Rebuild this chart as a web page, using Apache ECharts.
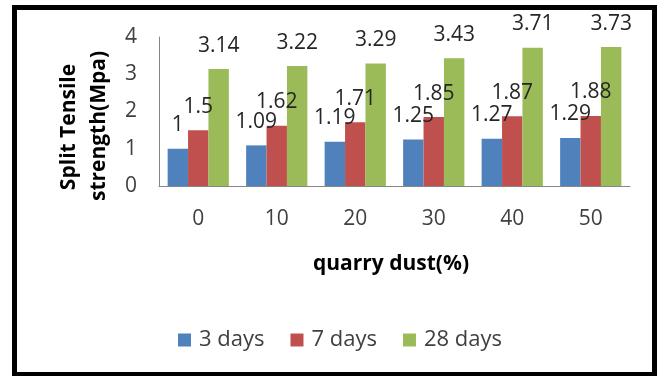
<!DOCTYPE html>
<html>
<head>
<meta charset="utf-8">
<script src="https://cdn.jsdelivr.net/npm/echarts@6/dist/echarts.min.js"></script>
<style>html,body{margin:0;padding:0;background:#fff}#c{width:661px;height:376px}</style>
</head>
<body>
<div id="c"></div>
<script>
const categories = ['0', '10', '20', '30', '40', '50'];
const days3 = [1, 1.09, 1.19, 1.25, 1.27, 1.29];
const days7 = [1.5, 1.62, 1.71, 1.85, 1.87, 1.88];
const days28 = [3.14, 3.22, 3.29, 3.43, 3.71, 3.73];
const seriesNames = ['3 days', '7 days', '28 days'];
const colors = ['#4F81BD', '#C0504D', '#9BBB59'];

const FONT = 'Open Sans';
const chart = echarts.init(document.getElementById('c'), null, {renderer: 'canvas'});
const labelCfg = {
  show: true, position: 'top', distance: 13,
  fontFamily: FONT, fontSize: 21, color: '#262626'
};
function mk(name, data, color) {
  return {
    name, type: 'bar', data, barGap: '0%', barCategoryGap: '22%',
    itemStyle: {color}, label: labelCfg, animation: false
  };
}
chart.setOption({
  animation: false,
  textStyle: {fontFamily: FONT},
  grid: {left: 159, right: 31, top: 37, bottom: 190, containLabel: false},
  xAxis: {
    type: 'category', data: categories,
    axisLine: {lineStyle: {color: '#868686', width: 1}},
    axisTick: {show: false},
    axisLabel: {fontFamily: FONT, fontSize: 21, color: '#404040', margin: 23}
  },
  yAxis: {
    type: 'value', min: 0, max: 4, interval: 1,
    axisLine: {show: true, lineStyle: {color: '#868686', width: 1}},
    axisTick: {show: false},
    splitLine: {show: false},
    axisLabel: {fontFamily: FONT, fontSize: 21, color: '#404040', margin: 22}
  },
  legend: {
    data: seriesNames, left: 173, top: 324, itemWidth: 13, itemHeight: 13, itemGap: 26,
    icon: 'rect',
    textStyle: {fontFamily: FONT, fontSize: 22, color: '#404040', padding: [0, 0, 0, 3]}
  },
  series: [mk(seriesNames[0], days3, colors[0]), mk(seriesNames[1], days7, colors[1]), mk(seriesNames[2], days28, colors[2])],
  graphic: [
    {type: 'rect', shape: {x: 14.5, y: 7.5, width: 640, height: 367}, style: {fill: 'none', stroke: '#000', lineWidth: 5}, silent: true},
    {type: 'text', x: 69, y: 127, rotation: Math.PI / 2,
     style: {text: 'Split Tensile', fontFamily: FONT, fontWeight: 'bold', fontSize: 21, fill: '#000', align: 'center', verticalAlign: 'middle'}},
    {type: 'text', x: 99, y: 126, rotation: Math.PI / 2,
     style: {text: 'strength(Mpa)', fontFamily: FONT, fontWeight: 'bold', fontSize: 21, fill: '#000', align: 'center', verticalAlign: 'middle'}},
    {type: 'text', x: 391, y: 264,
     style: {text: 'quarry dust(%)', fontFamily: FONT, fontWeight: 'bold', fontSize: 21, fill: '#000', align: 'center', verticalAlign: 'middle'}}
  ]
});
</script>
</body>
</html>
